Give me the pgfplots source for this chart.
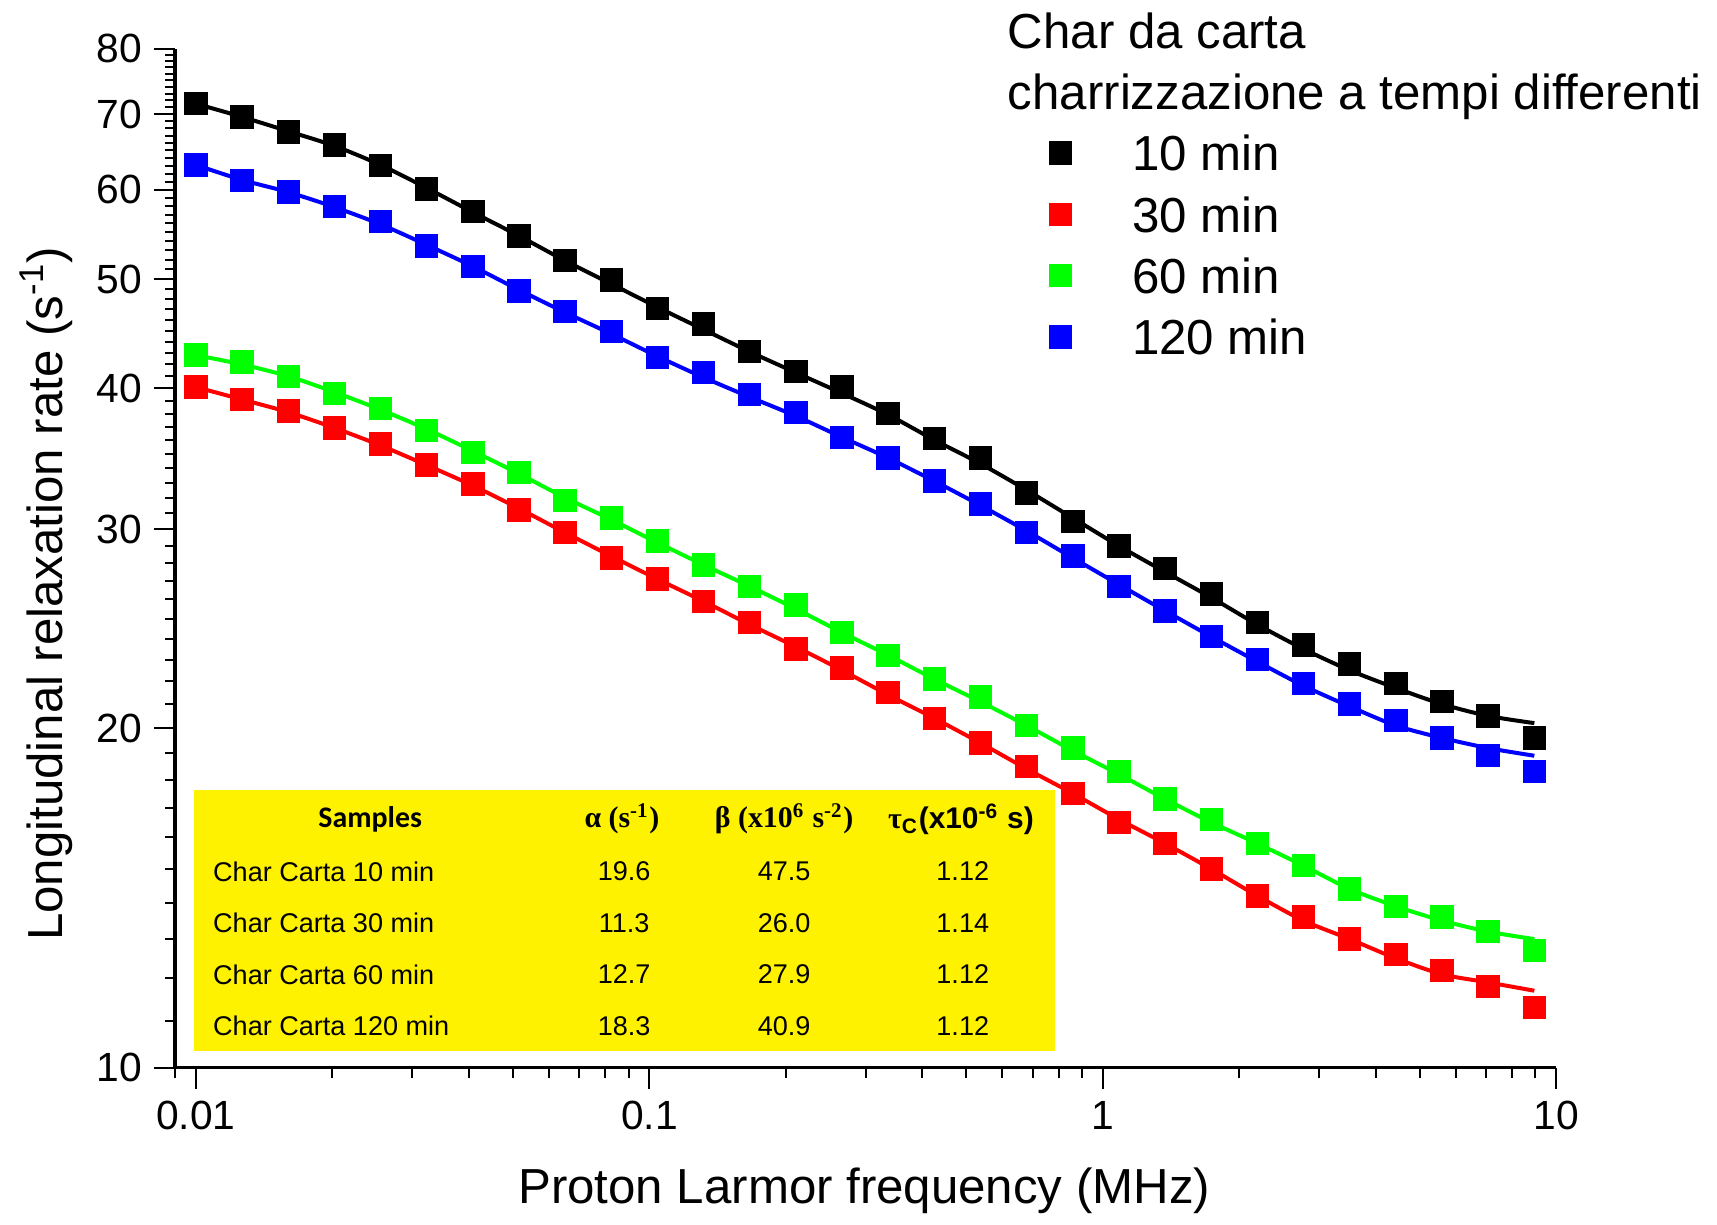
\documentclass[border=0pt]{standalone}
\usepackage{pgfplots}
\pgfplotsset{compat=1.18}
\usepackage{pgfplotstable}
\usepackage{fontspec}
\setmainfont{Liberation Sans}
\newfontfamily\serifgr{Liberation Serif}
\newfontfamily\calib{Carlito}

\pgfplotstableread{
x        d10   d30   d60   d120  f10   f30   f60   f120
0.01     71.5  40.1  42.8  63.1  71.5  40.1  42.8  63.1
0.01264  69.6  39.1  42.2  61.1  69.6  39.1  42.0  61.2
0.01598  67.5  38.2  41.0  59.7  67.6  38.1  41.0  59.7
0.02020  65.7  36.9  39.6  58.0  65.6  36.9  39.7  57.9
0.02553  63.0  35.7  38.4  56.2  63.1  35.6  38.3  55.9
0.03228  60.1  34.2  36.7  53.5  60.2  34.2  36.8  53.6
0.04080  57.4  32.9  35.1  51.3  57.3  32.8  35.2  51.3
0.05158  54.6  31.2  33.7  48.8  54.6  31.3  33.6  48.9
0.06520  51.9  29.8  31.8  46.8  51.9  29.8  32.0  46.7
0.08242  49.9  28.3  30.7  44.9  49.5  28.4  30.6  44.7
0.1042   47.1  27.1  29.3  42.6  47.2  27.1  29.2  42.7
0.1317   45.6  25.9  27.9  41.3  45.1  25.9  27.9  40.9
0.1665   43.1  24.8  26.7  39.5  43.1  24.7  26.7  39.3
0.2105   41.4  23.5  25.7  38.1  41.3  23.6  25.5  37.8
0.2661   40.1  22.6  24.3  36.2  39.6  22.5  24.3  36.2
0.3363   38.0  21.5  23.2  34.7  37.9  21.4  23.2  34.7
0.4252   36.1  20.4  22.1  33.1  36.0  20.4  22.1  33.1
0.5375   34.7  19.4  21.3  31.6  34.3  19.4  21.1  31.5
0.6794   32.3  18.5  20.1  29.8  32.5  18.4  20.1  29.9
0.8589   30.5  17.5  19.2  28.4  30.7  17.5  19.1  28.3
1.0857   29.0  16.5  18.3  26.7  29.0  16.6  18.2  26.8
1.3725   27.7  15.8  17.3  25.4  27.5  15.8  17.3  25.4
1.735    26.3  15.0  16.6  24.1  26.1  15.0  16.5  24.1
2.193    24.8  14.2  15.8  23.0  24.7  14.2  15.8  22.9
2.772    23.7  13.6  15.1  21.9  23.5  13.5  15.1  21.8
3.505    22.8  13.0  14.4  21.0  22.5  13.0  14.4  20.9
4.431    21.9  12.6  13.9  20.3  21.7  12.5  13.9  20.1
5.601    21.1  12.2  13.6  19.6  21.0  12.1  13.5  19.6
7.080    20.5  11.8  13.2  18.9  20.5  11.9  13.2  19.2
8.95     19.6  11.3  12.7  18.3  20.2  11.7  13.0  18.9
}\data

\begin{document}
\begin{tikzpicture}
\begin{axis}[
  xmode=log, ymode=log,
  scale only axis, width=138.1mm, height=101.9mm,
  xmin=0.009, xmax=10, ymin=10, ymax=80,
  axis lines=left, axis line style={line width=0.35mm, -},
  xtick={0.01,0.1,1,10}, xticklabels={0.01,0.1,1,10},
  minor xtick={0.009,0.02,0.03,0.04,0.05,0.06,0.07,0.08,0.09,0.2,0.3,0.4,0.5,0.6,0.7,0.8,0.9,2,3,4,5,6,7,8,9},
  ytick={10,20,30,40,50,60,70,80}, yticklabels={10,20,30,40,50,60,70,80},
  minor ytick={11,12,13,14,15,16,17,18,19,21,22,23,24,25,26,27,28,29,31,32,33,34,35,36,37,38,39,41,42,43,44,45,46,47,48,49,51,52,53,54,55,56,57,58,59,61,62,63,64,65,66,67,68,69,71,72,73,74,75,76,77,78,79},
  tick align=outside,
  major tick length=2.1mm, minor tick length=1.0mm,
  tick style={black, line width=0.2mm},
  ticklabel style={font=\fontsize{11.6}{13}\selectfont},
  xlabel={Proton Larmor frequency (MHz)},
  ylabel={Longitudinal relaxation rate (s\textsuperscript{-1})},
  label style={font=\fontsize{14}{17}\selectfont},
  xlabel style={at={(axis description cs:0.499,-0.1204)}, anchor=center},
  ylabel style={at={(axis description cs:-0.0934,0.465)}, anchor=center},
  legend style={draw=none, fill=none, inner sep=0pt, outer sep=0pt,
    at={(0.6329,0.9244)}, anchor=north west,
    font=\fontsize{14}{17}\selectfont, row sep=0pt, column sep=5.4mm,
    nodes={inner ysep=0pt, text height=4.5mm, text depth=1.63mm}},
  legend cell align=left,
  legend image code/.code={\draw[#1, mark repeat=2, mark phase=2] plot coordinates {(-1.2mm,0.33mm) (0mm,0.33mm) (1.2mm,0.33mm)};},
  clip=false,
]
% table box
\fill[yellow] (axis description cs:0.0135,0.0161) rectangle (axis description cs:0.6368,0.272);
\begin{scope}[every node/.style={font=\fontsize{7.7}{10}\selectfont, inner sep=0pt}]
\node[anchor=center, font=\calib\bfseries\fontsize{8.5}{10}\selectfont] at (axis description cs:0.1412,0.244) {Samples};
\node[anchor=center, font=\serifgr\bfseries\fontsize{8.5}{10}\selectfont] at (axis description cs:0.3235,0.244) {α (s\textsuperscript{-1})};
\node[anchor=center, font=\serifgr\bfseries\fontsize{8.5}{10}\selectfont] at (axis description cs:0.4409,0.244) {β (x10\textsuperscript{6} s\textsuperscript{-2})};
\node[anchor=center, font=\bfseries\fontsize{8.5}{10}\selectfont] at (axis description cs:0.569,0.244) {{\serifgr τ}\textsubscript{C}(x10\textsuperscript{-6} s)};
\node[anchor=west] at (axis description cs:0.027,0.1925) {Char Carta 10 min};
\node[anchor=west] at (axis description cs:0.027,0.1419) {Char Carta 30 min};
\node[anchor=west] at (axis description cs:0.027,0.0914) {Char Carta 60 min};
\node[anchor=west] at (axis description cs:0.027,0.0409) {Char Carta 120 min};
\node at (axis description cs:0.3251,0.1925) {19.6};
\node at (axis description cs:0.3251,0.1419) {11.3};
\node at (axis description cs:0.3251,0.0914) {12.7};
\node at (axis description cs:0.3251,0.0409) {18.3};
\node at (axis description cs:0.4409,0.1925) {47.5};
\node at (axis description cs:0.4409,0.1419) {26.0};
\node at (axis description cs:0.4409,0.0914) {27.9};
\node at (axis description cs:0.4409,0.0409) {40.9};
\node at (axis description cs:0.5703,0.1925) {1.12};
\node at (axis description cs:0.5703,0.1419) {1.14};
\node at (axis description cs:0.5703,0.0914) {1.12};
\node at (axis description cs:0.5703,0.0409) {1.12};
\end{scope}
% legend title
\node[anchor=base west, inner sep=0pt, font=\fontsize{14}{17}\selectfont] at (axis description cs:0.6025,1.0) {Char da carta};
\node[anchor=base west, inner sep=0pt, font=\fontsize{14}{17}\selectfont] at (axis description cs:0.6025,0.9401) {charrizzazione a tempi differenti};
% fit curves
\addplot[black, line width=0.4mm, smooth, forget plot] table[x=x,y=f10]{\data};
\addplot[red, line width=0.4mm, smooth, forget plot] table[x=x,y=f30]{\data};
\addplot[green, line width=0.4mm, smooth, forget plot] table[x=x,y=f60]{\data};
\addplot[blue, line width=0.4mm, smooth, forget plot] table[x=x,y=f120]{\data};
% data
\addplot[only marks, mark=square*, mark size=1.1mm, black] table[x=x,y=d10]{\data};
\addlegendentry{10 min}
\addplot[only marks, mark=square*, mark size=1.1mm, red] table[x=x,y=d30]{\data};
\addlegendentry{30 min}
\addplot[only marks, mark=square*, mark size=1.1mm, green] table[x=x,y=d60]{\data};
\addlegendentry{60 min}
\addplot[only marks, mark=square*, mark size=1.1mm, blue] table[x=x,y=d120]{\data};
\addlegendentry{120 min}
\end{axis}
\pgfresetboundingbox
\path[use as bounding box] (-17.52mm,-15.73mm) rectangle (154.18mm,106.77mm);
\end{tikzpicture}
\end{document}
